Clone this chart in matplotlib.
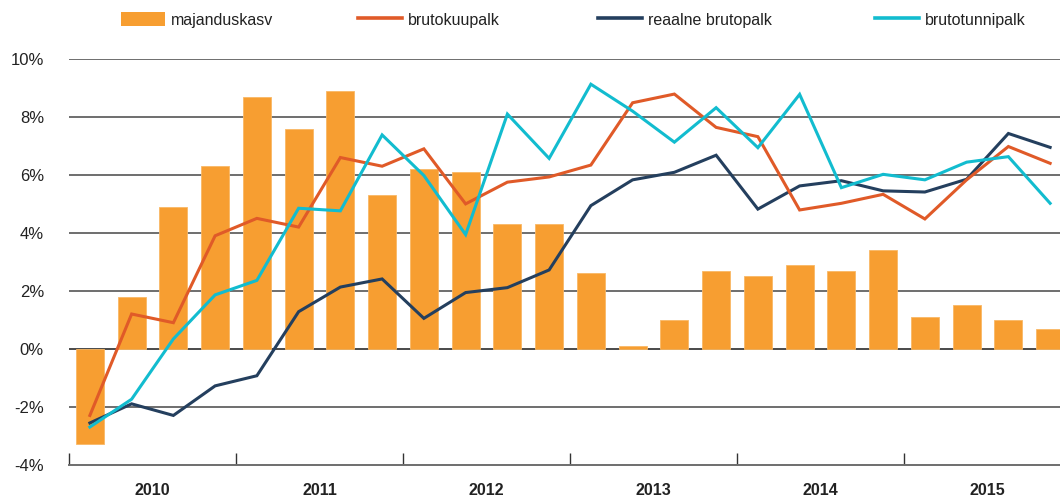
import matplotlib
matplotlib.use("Agg")
import matplotlib.pyplot as plt
from matplotlib.lines import Line2D
from matplotlib.patches import Patch
import numpy as np

plt.rcParams['font.family'] = ['Liberation Sans', 'DejaVu Sans']

years = ["2010", "2011", "2012", "2013", "2014", "2015"]
ytick_labels = ["-4%", "-2%", "0%", "2%", "4%", "6%", "8%", "10%"]
yticks = [-4, -2, 0, 2, 4, 6, 8, 10]

majanduskasv = [-3.3, 1.8, 4.9, 6.3,
                8.7, 7.6, 8.9, 5.3,
                6.2, 6.1, 4.3, 4.3,
                2.6, 0.1, 1.0, 2.7,
                2.5, 2.9, 2.7, 3.4,
                1.1, 1.5, 1.0, 0.7]
brutokuupalk = [-2.3, 1.2, 0.9, 3.9,
                4.5, 4.2, 6.6, 6.3,
                6.9, 5.0, 5.75, 5.93,
                6.34, 8.49, 8.79, 7.64,
                7.32, 4.79, 5.02, 5.33,
                4.48, 5.83, 6.98, 6.4]
reaalne_brutopalk = [-2.56, -1.9, -2.3, -1.28,
                     -0.93, 1.28, 2.13, 2.41,
                     1.05, 1.94, 2.11, 2.72,
                     4.94, 5.83, 6.09, 6.68,
                     4.82, 5.62, 5.80, 5.45,
                     5.41, 5.85, 7.43, 6.95]
brutotunnipalk = [-2.7, -1.74, 0.34, 1.86,
                  2.36, 4.85, 4.76, 7.38,
                  5.98, 3.94, 8.1, 6.57,
                  9.13, 8.2, 7.13, 8.32,
                  6.94, 8.78, 5.56, 6.02,
                  5.83, 6.44, 6.63, 5.02]

c_bar = '#F79E31'
c_kuu = '#E05A28'
c_real = '#243F5E'
c_tunni = '#12BCCF'
c_grid = '#6E6E6E'

W, H = 1060, 500
fig = plt.figure(figsize=(W / 100, H / 100), dpi=100)
left_px, right_px = 69, 1060
top_px, bot_px = 59, 464.7
ax = fig.add_axes([left_px / W, 1 - bot_px / H, (right_px - left_px) / W, (bot_px - top_px) / H])

x = np.arange(len(majanduskasv))
q_px = 41.75
ax.set_xlim(-0.5, -0.5 + (right_px - left_px) / q_px)
ax.set_ylim(-4, 10)

for yv in yticks[1:]:
    ax.axhline(yv, color=c_grid if yv != 0 else '#4a4a4a', lw=1.4, zorder=1)

ax.bar(x, majanduskasv, width=0.67, color=c_bar, edgecolor='#F9B865', linewidth=0.6, zorder=2)
ax.plot(x, brutokuupalk, color=c_kuu, lw=2.2, zorder=4, solid_joinstyle='miter')
ax.plot(x, reaalne_brutopalk, color=c_real, lw=2.2, zorder=3, solid_joinstyle='miter')
ax.plot(x, brutotunnipalk, color=c_tunni, lw=2.2, zorder=5, solid_joinstyle='miter')

for s in ['top', 'right', 'left']:
    ax.spines[s].set_visible(False)
ax.spines['bottom'].set_color(c_grid)
ax.spines['bottom'].set_linewidth(1.4)

ax.set_yticks(yticks)
ax.set_yticklabels(ytick_labels, fontsize=12, color='#222222')
ax.tick_params(axis='y', length=0, pad=18)

ax.set_xticks([-0.5 + 4 * i for i in range(6)])
ax.set_xticklabels([])
ax.tick_params(axis='x', which='major', direction='in', length=9, width=1.0, color='#333333')
ax.set_xticks([1.5 + 4 * i for i in range(6)], minor=True)
ax.set_xticklabels(years, minor=True, fontsize=11.5, fontweight='bold', color='#222222')
ax.tick_params(axis='x', which='minor', length=0, pad=13)

# legend entries
entries = [
    (Patch(facecolor=c_bar, edgecolor='none'), 'majanduskasv', 121),
    (Line2D([], [], color=c_kuu, lw=2.6), 'brutokuupalk', 358),
    (Line2D([], [], color=c_real, lw=2.6), 'reaalne brutopalk', 598),
    (Line2D([], [], color=c_tunni, lw=2.6), 'brutotunnipalk', 875),
]
for h, lab, xp in entries:
    leg = fig.legend([h], [lab], loc='center left', bbox_to_anchor=(xp / W, 1 - 20 / H),
                     frameon=False, fontsize=11.5, handlelength=2.75, handleheight=0.95,
                     handletextpad=0.35, borderaxespad=0, borderpad=0)
    for t in leg.get_texts():
        t.set_color('#222222')

fig.savefig('out.png', dpi=100)
